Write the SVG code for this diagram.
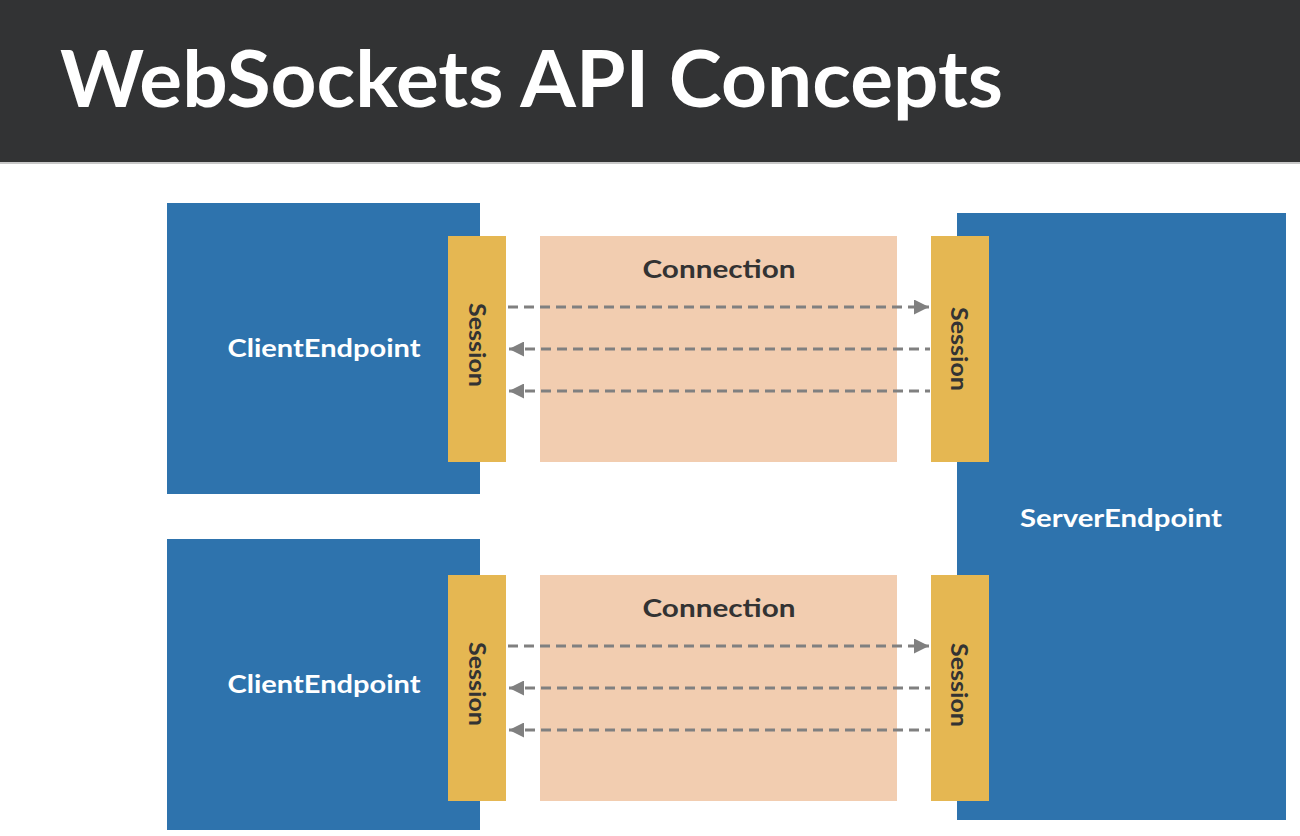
<svg xmlns="http://www.w3.org/2000/svg" width="1300" height="836" viewBox="0 0 1300 836">
<style>
.ep{fill:#2e73ad}
.ses{fill:#e5b752}
.con{fill:#f2cdb0}
.lbl{font-family:Lato,"Open Sans",sans-serif;font-weight:bold;fill:#fff;font-size:24px}
.st{font-family:Lato,"Open Sans",sans-serif;font-weight:bold;fill:#333;font-size:23px}
.ct{font-family:Lato,"Open Sans",sans-serif;font-weight:bold;fill:#333;font-size:25px}
.msg{stroke:#808080;stroke-width:3;stroke-dasharray:10 6;fill:none}
</style>
<defs>
<marker id="ah" viewBox="0 0 10 10" refX="10" refY="5" markerWidth="5" markerHeight="5" orient="auto-start-reverse" markerUnits="strokeWidth">
<path d="M0,0 L10,5 L0,10 z" fill="#808080"/>
</marker>
</defs>
<rect width="1300" height="836" fill="#ffffff"/>
<g id="title">
<rect x="0" y="0" width="1300" height="162" fill="#323334"/>
<rect x="0" y="162" width="1300" height="2" fill="#c8c8c8"/>
<text x="60" y="107" font-family="Lato,'Open Sans',sans-serif" font-weight="bold" font-size="78" fill="#ffffff" textLength="943" lengthAdjust="spacingAndGlyphs">WebSockets API Concepts</text>
</g>
<g id="client1">
<rect class="ep" x="167" y="203" width="313" height="291"/>
<text class="lbl" x="324" y="357" text-anchor="middle" textLength="193" lengthAdjust="spacingAndGlyphs">ClientEndpoint</text>
</g>
<g id="client2">
<rect class="ep" x="167" y="539" width="313" height="291"/>
<text class="lbl" x="324" y="693" text-anchor="middle" textLength="193" lengthAdjust="spacingAndGlyphs">ClientEndpoint</text>
</g>
<g id="server">
<rect class="ep" x="957" y="213" width="329" height="607"/>
<text class="lbl" x="1121" y="527" text-anchor="middle" textLength="202" lengthAdjust="spacingAndGlyphs">ServerEndpoint</text>
</g>
<g id="connection1">
<rect class="con" x="540" y="236" width="357" height="226"/>
<text class="ct" x="719" y="278" text-anchor="middle" textLength="153" lengthAdjust="spacingAndGlyphs">Connection</text>
</g>
<g id="connection2">
<rect class="con" x="540" y="575" width="357" height="226"/>
<text class="ct" x="719" y="617" text-anchor="middle" textLength="153" lengthAdjust="spacingAndGlyphs">Connection</text>
</g>
<g id="session-c1">
<rect class="ses" x="448" y="236" width="58" height="226"/>
<text class="st" transform="translate(469,345) rotate(90)" text-anchor="middle" textLength="84" lengthAdjust="spacingAndGlyphs">Session</text>
</g>
<g id="session-c2">
<rect class="ses" x="448" y="575" width="58" height="226"/>
<text class="st" transform="translate(469,684) rotate(90)" text-anchor="middle" textLength="84" lengthAdjust="spacingAndGlyphs">Session</text>
</g>
<g id="session-s1">
<rect class="ses" x="931" y="236" width="58" height="226"/>
<text class="st" transform="translate(951,349) rotate(90)" text-anchor="middle" textLength="84" lengthAdjust="spacingAndGlyphs">Session</text>
</g>
<g id="session-s2">
<rect class="ses" x="931" y="575" width="58" height="226"/>
<text class="st" transform="translate(951,685) rotate(90)" text-anchor="middle" textLength="84" lengthAdjust="spacingAndGlyphs">Session</text>
</g>
<g id="connectors">
<line class="msg" x1="508" y1="307" x2="929" y2="307" marker-end="url(#ah)"/>
<line class="msg" x1="509" y1="349" x2="930" y2="349" marker-start="url(#ah)"/>
<line class="msg" x1="509" y1="391" x2="930" y2="391" marker-start="url(#ah)"/>
<line class="msg" x1="508" y1="646" x2="929" y2="646" marker-end="url(#ah)"/>
<line class="msg" x1="509" y1="688" x2="930" y2="688" marker-start="url(#ah)"/>
<line class="msg" x1="509" y1="730" x2="930" y2="730" marker-start="url(#ah)"/>
</g>
</svg>
